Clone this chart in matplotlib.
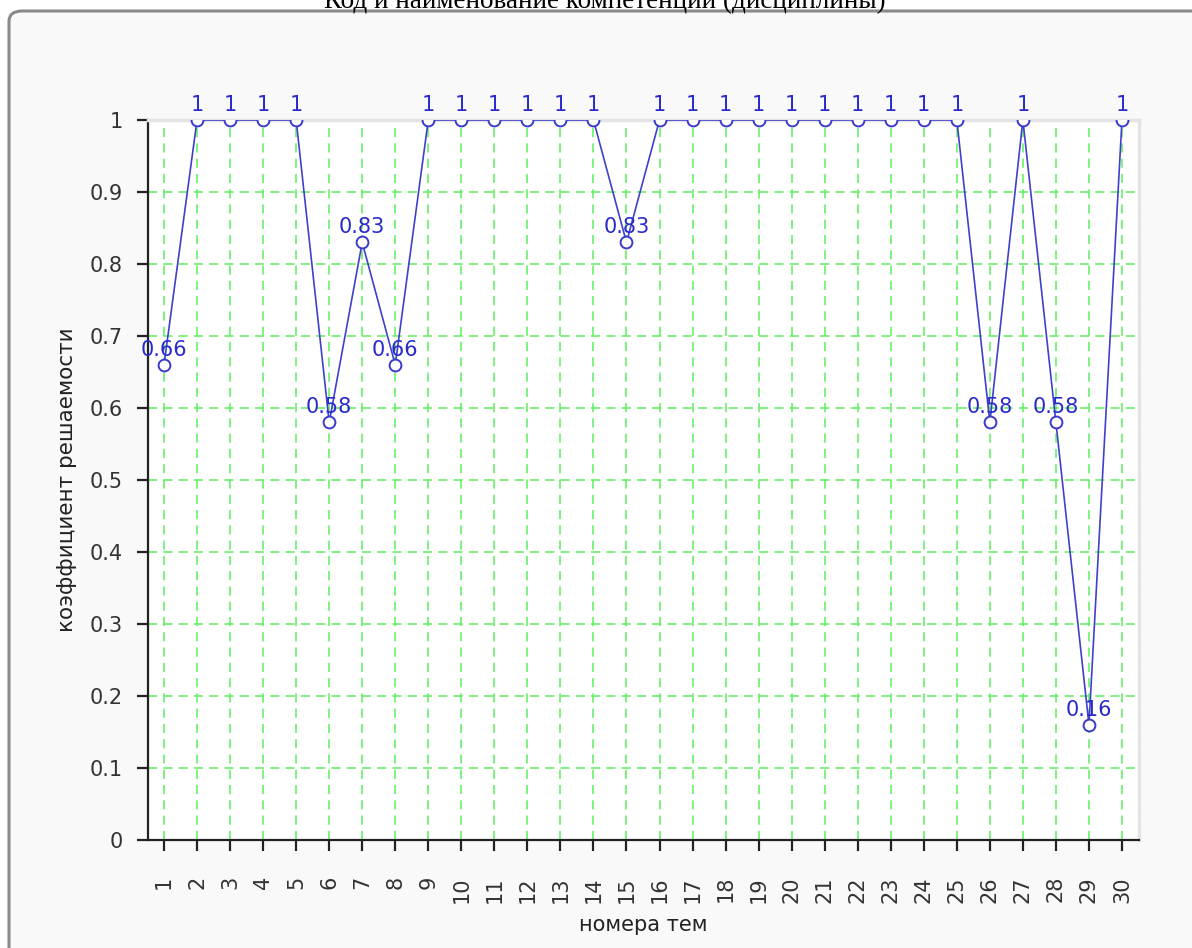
import matplotlib
matplotlib.use("Agg")
import matplotlib.pyplot as plt
from matplotlib.patches import FancyBboxPatch

topics = list(range(1, 31))
values = [0.66, 1, 1, 1, 1, 0.58, 0.83, 0.66, 1, 1, 1, 1, 1, 1, 0.83,
          1, 1, 1, 1, 1, 1, 1, 1, 1, 1, 0.58, 1, 0.58, 0.16, 1]
labels = ["1" if v == 1 else f"{v:g}" for v in values]
title = "Код и наименование компетенции (дисциплины)"
xlabel = "номера тем"
ylabel = "коэффициент решаемости"

W, H = 1192, 948
fig = plt.figure(figsize=(W / 100, H / 100), dpi=100)
fig.patch.set_facecolor("white")

frame = FancyBboxPatch((9 / W, -0.05), 1.05, (H - 11) / H + 0.05,
                       boxstyle="round,pad=0,rounding_size=0.011",
                       transform=fig.transFigure, facecolor="#f9f9f9",
                       edgecolor="#8a8a8a", linewidth=2.2, zorder=-5)
fig.add_artist(frame)

fig.text(0.5 + 9 / W, 1 - 8 / H, title, ha="center", va="baseline",
         family="Liberation Serif", fontsize=19.5, color="black", zorder=-4)

ax = fig.add_axes([147.5 / W, 1 - 840 / H, (1138.5 - 147.5) / W, 720 / H])
ax.set_facecolor("white")
ax.plot(topics, values, color="#4040cc", linewidth=1.2, marker="o",
        markersize=8.5, markerfacecolor="white", markeredgecolor="#3a3acc",
        markeredgewidth=1.4, zorder=3)
for x, v, t in zip(topics, values, labels):
    ax.annotate(t, (x, v), xytext=(0, 6.5), textcoords="offset points",
                ha="center", va="baseline", color="#2a2acc", fontsize=15,
                zorder=4)

ax.set_xlim(0.5, 30.5)
ax.set_ylim(0, 1)
ax.set_xticks(topics)
ax.set_xticklabels([str(t) for t in topics], rotation=90)
ax.set_yticks([i / 10 for i in range(11)])
ax.set_yticklabels(["0"] + [f"{i/10:g}" for i in range(1, 10)] + ["1"])
ax.grid(True, color="#5cf05c", linestyle=(0, (6, 4)), linewidth=1.1)
ax.set_axisbelow(True)
ax.tick_params(direction="out", length=8, width=1.6, labelsize=15,
               colors="#222222", labelcolor="#333333")
ax.tick_params(axis="y", pad=10)
ax.tick_params(axis="x", pad=18, labelsize=15)
for s in ["left", "bottom"]:
    ax.spines[s].set_linewidth(1.6)
    ax.spines[s].set_color("#222222")
for s in ["top", "right"]:
    ax.spines[s].set_color("#e4e4e4")
    ax.spines[s].set_linewidth(2.5)
ax.set_xlabel(xlabel, fontsize=15, color="#222222", labelpad=9)
ax.set_ylabel(ylabel, fontsize=15.5, color="#222222", labelpad=9)

fig.savefig("out.png", dpi=100)
